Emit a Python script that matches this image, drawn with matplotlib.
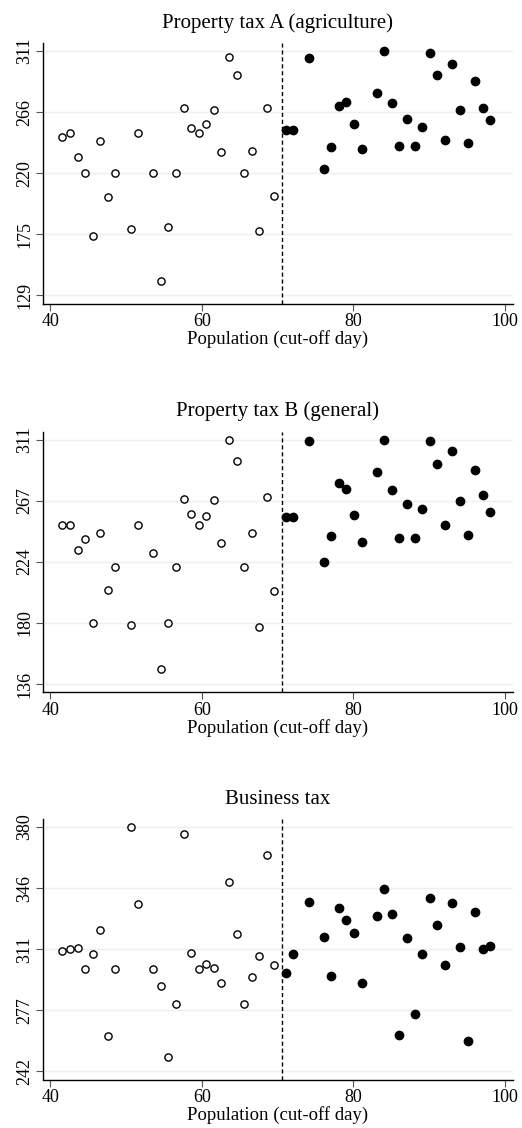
import numpy as np
import matplotlib.pyplot as plt

plt.rcParams['font.family'] = ['Liberation Serif', 'DejaVu Serif']

# running variable: days below (open) and above (filled) the cut-off
x_below = [41.6, 42.6, 43.6, 44.6, 45.6, 46.6, 47.6, 48.6, 50.6, 51.6, 53.6, 54.6, 55.6, 56.6,
           57.6, 58.6, 59.6, 60.6, 61.6, 62.6, 63.6, 64.6, 65.6, 66.6, 67.6, 68.6, 69.6]
x_above = [71.1, 72.1, 74.1, 76.1, 77.1, 78.1, 79.1, 80.1, 81.1, 83.1, 84.1, 85.1, 86.1,
           87.1, 88.1, 89.1, 90.1, 91.1, 92.1, 93.1, 94.1, 95.1, 96.1, 97.1, 98.1]
cutoff = 70.6

propA_below = [247.2, 249.9, 232.0, 220.0, 173.1, 244.0, 202.0, 220.0, 178.4, 249.9, 220.0, 140.0,
               179.9, 220.0, 268.6, 253.9, 249.9, 256.4, 267.1, 235.7, 306.8, 293.3, 220.0, 236.2,
               176.9, 268.9, 202.8]
propA_above = [251.9, 251.9, 306.0, 223.2, 239.9, 269.9, 273.1, 256.9, 238.2, 280.1, 311.0, 272.6,
               240.4, 260.6, 240.4, 254.4, 309.8, 293.3, 244.9, 301.0, 267.1, 242.9, 288.8, 268.6,
               259.4]

propB_below = [250.3, 249.9, 231.9, 240.0, 179.9, 244.1, 203.1, 219.9, 178.4, 250.1, 230.0, 146.5,
               179.9, 219.9, 268.8, 257.5, 250.1, 256.3, 267.8, 237.2, 311.0, 295.9, 219.9, 244.1,
               177.0, 270.0, 202.9]
propB_above = [255.9, 255.9, 309.8, 223.5, 242.4, 280.1, 276.0, 257.1, 237.9, 287.7, 311.0, 275.3,
               240.8, 264.7, 240.8, 261.4, 310.0, 293.3, 250.1, 303.1, 267.4, 242.9, 289.0, 271.2,
               259.2]

bus_below = [310.1, 311.0, 311.9, 300.0, 308.4, 322.0, 262.2, 300.0, 380.0, 336.7, 300.0, 290.2,
             250.0, 280.0, 376.0, 308.9, 300.0, 302.5, 300.2, 291.9, 348.8, 319.5, 280.0, 295.3,
             307.0, 364.5, 301.9]
bus_above = [297.6, 308.2, 337.8, 318.2, 295.7, 334.1, 327.4, 319.9, 292.1, 329.5, 345.0, 330.7,
             262.4, 317.6, 274.3, 308.2, 340.1, 324.6, 302.1, 337.1, 312.1, 259.0, 332.0, 311.2,
             312.7]

titles = ['Property tax A (agriculture)', 'Property tax B (general)', 'Business tax']
ymin = [129, 136, 242]
ymax = [311, 311, 380]
series = [(propA_below, propA_above), (propB_below, propB_above), (bus_below, bus_above)]

fig = plt.figure(figsize=(5.22, 11.28), dpi=100)
W, H = 522, 1128
tops = [43, 431.7, 819]
ax_h = 260.5

for i in range(3):
    ax = fig.add_axes([42.7 / W, 1 - (tops[i] + ax_h) / H, (513 - 42.7) / W, ax_h / H])
    lo, hi = ymin[i], ymax[i]
    step = (hi - lo) / 4
    yt = [lo + k * step for k in range(5)]
    pad = (hi - lo) * 0.033
    ax.set_ylim(lo - pad, hi + pad)
    ax.set_xlim(39.0, 101.1)
    for v in yt:
        ax.axhline(v, color='#eaf1f2', lw=1.0, zorder=0)
    ax.set_yticks(yt)
    ax.set_yticklabels([str(int(v + 0.5)) for v in yt], rotation=90, va='center', fontsize=13)
    ax.set_xticks([40, 60, 80, 100])
    ax.set_xticklabels(['40', '60', '80', '100'], fontsize=13)
    ax.tick_params(length=5, width=0.8, color='#555555', pad=2)
    ax.spines['top'].set_visible(False)
    ax.spines['right'].set_visible(False)
    ax.spines['left'].set_linewidth(1.0)
    ax.spines['bottom'].set_linewidth(1.0)

    below, above = series[i]
    ax.plot(x_below, below, 'o', ms=5.2, mfc='white', mec='black', mew=1.0, zorder=3)
    ax.plot(x_above, above, 'o', ms=6, mfc='black', mec='black', zorder=3)
    ax.axvline(cutoff, color='black', ls=(0, (3, 2)), lw=1.0, zorder=2)

    ax.set_title(titles[i], fontsize=15, pad=11)
    ax.set_xlabel('Population (cut-off day)', fontsize=13.5, labelpad=0)

fig.savefig('out.png', dpi=100)
